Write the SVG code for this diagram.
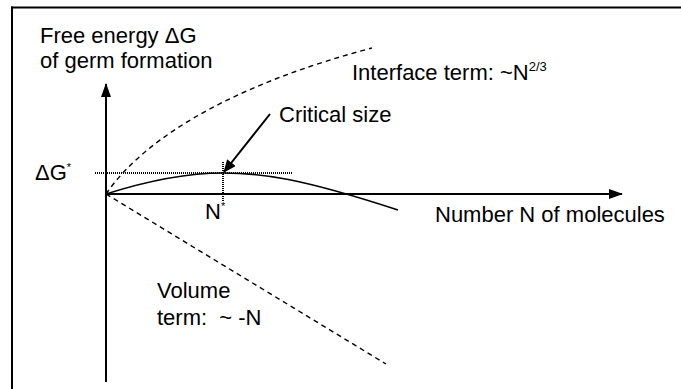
<svg xmlns="http://www.w3.org/2000/svg" width="681" height="389" viewBox="0 0 681 389">
<defs>
<marker id="ah" markerWidth="14" markerHeight="10" refX="13" refY="5" orient="auto" markerUnits="userSpaceOnUse">
<path d="M0,0 L14,5 L0,10 Z" fill="#000"/>
</marker>
<marker id="ah2" markerWidth="13" markerHeight="11" refX="12" refY="5.5" orient="auto" markerUnits="userSpaceOnUse">
<path d="M0,0 L13,5.5 L0,11 Z" fill="#000"/>
</marker>
<style>
text{font-family:"Liberation Sans",Arial,sans-serif;font-size:22px;fill:#000}
.axis{stroke:#000;stroke-width:2;fill:none}
.dash{stroke:#000;stroke-width:1.4;fill:none;stroke-dasharray:5 4}
.dot{stroke:#000;stroke-width:2;fill:none;stroke-dasharray:1 1}
.curve{stroke:#000;stroke-width:1.6;fill:none}
.sup{font-size:13px}
.star{font-size:11px}
</style>
</defs>
<rect width="681" height="389" fill="#fff"/>
<g id="frame">
<line x1="11" y1="7.5" x2="681" y2="7.5" stroke="#000" stroke-width="2"/>
<line x1="12" y1="6.5" x2="12" y2="389" stroke="#000" stroke-width="2"/>
</g>
<g id="connectors">
<line id="y-axis" class="axis" x1="106" y1="382" x2="106" y2="84" marker-end="url(#ah)"/>
<line id="x-axis" class="axis" x1="106" y1="194" x2="622" y2="194" marker-end="url(#ah)"/>
<path id="interface-curve" class="dash" d="M106,194 C150,130 250,80 372,48"/>
<line id="volume-line" class="dash" x1="106" y1="194" x2="386" y2="364"/>
<path id="total-curve" class="curve" d="M106,194 C150,180 190,173 223,173 C262,173 300,178 398,210"/>
<line id="dg-level" class="dot" x1="95" y1="173" x2="292" y2="173"/>
<line id="n-level" class="dot" x1="223" y1="162" x2="223" y2="201"/>
<line id="critical-arrow" stroke="#000" stroke-width="2" x1="270" y1="114" x2="224" y2="172" marker-end="url(#ah2)"/>
</g>
<g id="y-label">
<text x="40" y="43">Free energy ΔG</text>
<text x="40" y="68">of germ formation</text>
</g>
<g id="interface-label">
<text x="352" y="80">Interface term: ~N<tspan class="sup" dy="-9">2/3</tspan></text>
</g>
<g id="critical-label">
<text x="279" y="122">Critical size</text>
</g>
<g id="dg-star-label">
<text x="35" y="180">ΔG<tspan class="star" dy="-9">*</tspan></text>
</g>
<g id="n-star-label">
<text x="205" y="219">N<tspan class="star" dy="-9">*</tspan></text>
</g>
<g id="x-label">
<text x="435" y="222">Number N of molecules</text>
</g>
<g id="volume-label">
<text x="157" y="298">Volume</text>
<text x="157" y="325">term:&#160; ~ -N</text>
</g>
</svg>
